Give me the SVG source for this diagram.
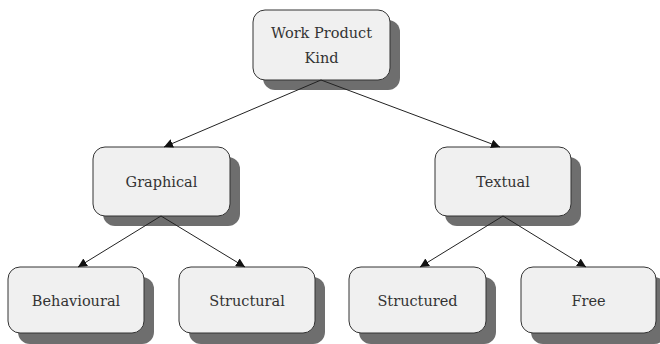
<svg xmlns="http://www.w3.org/2000/svg" width="660" height="344" viewBox="0 0 660 344">
<defs>
<style>
.sh{fill:#6e6e6e;}
.bx{fill:#f0f0f0;stroke:#333;stroke-width:1;}
.t{font-size:14.5px;fill:#333;text-anchor:middle;}
.c{stroke:#222;stroke-width:1;fill:none;marker-end:url(#ah);}
</style>
<marker id="ah" viewBox="0 0 10 10" refX="10" refY="5" markerWidth="9" markerHeight="9" markerUnits="userSpaceOnUse" orient="auto">
<path d="M0,0 L10,5 L0,10 z" fill="#111"/>
</marker>
</defs>
<rect width="660" height="344" fill="#fff"/>
<g font-family="DejaVu Serif, serif">
<g id="n-root"><rect class="sh" x="263" y="20" width="137" height="70" rx="12"/><rect class="bx" x="253" y="10" width="137" height="70" rx="12"/><text class="t" x="321.5" y="38" font-size="14">Work Product</text><text class="t" x="321.5" y="63" font-size="14">Kind</text></g>
<g id="n-graphical"><rect class="sh" x="103" y="157" width="137" height="69" rx="12"/><rect class="bx" x="93" y="147" width="137" height="69" rx="12"/><text class="t" x="161.5" y="187">Graphical</text></g>
<g id="n-textual"><rect class="sh" x="445" y="157" width="136" height="69" rx="12"/><rect class="bx" x="435" y="147" width="136" height="69" rx="12"/><text class="t" x="503" y="187">Textual</text></g>
<g id="n-behavioural"><rect class="sh" x="18" y="277" width="136" height="67" rx="12"/><rect class="bx" x="8" y="267" width="136" height="66" rx="12"/><text class="t" x="76" y="306">Behavioural</text></g>
<g id="n-structural"><rect class="sh" x="189" y="277" width="136" height="67" rx="12"/><rect class="bx" x="179" y="267" width="136" height="66" rx="12"/><text class="t" x="247" y="306">Structural</text></g>
<g id="n-structured"><rect class="sh" x="359" y="277" width="137" height="67" rx="12"/><rect class="bx" x="349" y="267" width="137" height="66" rx="12"/><text class="t" x="417.5" y="306">Structured</text></g>
<g id="n-free"><rect class="sh" x="531" y="277" width="135" height="67" rx="12"/><rect class="bx" x="521" y="267" width="135" height="66" rx="12"/><text class="t" x="588.5" y="306">Free</text></g>
</g>
<g id="connectors">
<line class="c" x1="321" y1="80" x2="164" y2="147"/>
<line class="c" x1="321" y1="80" x2="500" y2="147"/>
<line class="c" x1="161" y1="216" x2="78" y2="267"/>
<line class="c" x1="161" y1="216" x2="245" y2="267"/>
<line class="c" x1="503" y1="216" x2="420" y2="267"/>
<line class="c" x1="503" y1="216" x2="586" y2="267"/>
</g>
</svg>
